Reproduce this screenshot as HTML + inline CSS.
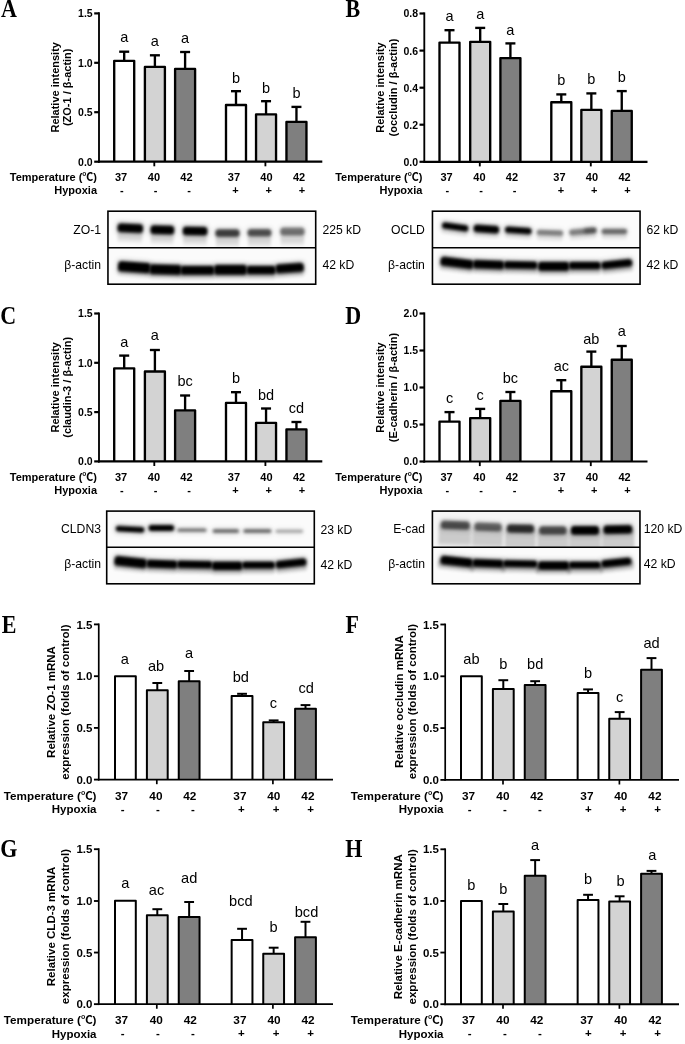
<!DOCTYPE html>
<html lang="en"><head><meta charset="utf-8"><title>Figure</title>
<style>
html,body{margin:0;padding:0;background:#fff;}
body{width:685px;height:1044px;overflow:hidden;}
svg{display:block;}
.ss{font-family:"Liberation Sans","Noto Sans CJK SC",sans-serif;fill:#000;}
.sr{font-family:"Liberation Serif","Noto Serif CJK SC",serif;fill:#000;}
.b{font-weight:bold;}
</style></head><body>
<svg width="685" height="1044" viewBox="0 0 685 1044">
<defs>
<filter id="bl" x="-30%" y="-100%" width="160%" height="300%"><feGaussianBlur stdDeviation="1.7 1.5"/></filter>
<filter id="bl2" x="-30%" y="-150%" width="160%" height="400%"><feGaussianBlur stdDeviation="1.6 2.2"/></filter>
<filter id="bl3" x="-30%" y="-200%" width="160%" height="500%"><feGaussianBlur stdDeviation="2.4 2.6"/></filter>
</defs>
<rect width="685" height="1044" fill="#fff"/>
<line x1="124.2" y1="60.8" x2="124.2" y2="51.7" stroke="#000" stroke-width="2.35"/>
<line x1="119.2" y1="51.7" x2="129.2" y2="51.7" stroke="#000" stroke-width="2.35"/>
<line x1="154.9" y1="66.9" x2="154.9" y2="55.3" stroke="#000" stroke-width="2.35"/>
<line x1="149.9" y1="55.3" x2="159.9" y2="55.3" stroke="#000" stroke-width="2.35"/>
<line x1="185.1" y1="68.9" x2="185.1" y2="52" stroke="#000" stroke-width="2.35"/>
<line x1="180.1" y1="52" x2="190.1" y2="52" stroke="#000" stroke-width="2.35"/>
<line x1="236" y1="105" x2="236" y2="91.2" stroke="#000" stroke-width="2.35"/>
<line x1="231" y1="91.2" x2="241" y2="91.2" stroke="#000" stroke-width="2.35"/>
<line x1="266.05" y1="114.4" x2="266.05" y2="101.2" stroke="#000" stroke-width="2.35"/>
<line x1="261.05" y1="101.2" x2="271.05" y2="101.2" stroke="#000" stroke-width="2.35"/>
<line x1="296.45" y1="121.9" x2="296.45" y2="106.9" stroke="#000" stroke-width="2.35"/>
<line x1="291.45" y1="106.9" x2="301.45" y2="106.9" stroke="#000" stroke-width="2.35"/>
<path d="M114.2 161.7V60.8H134.2V161.7" fill="#ffffff" stroke="#000" stroke-width="2.35" stroke-linejoin="round"/>
<path d="M144.9 161.7V66.9H164.9V161.7" fill="#d3d3d3" stroke="#000" stroke-width="2.35" stroke-linejoin="round"/>
<path d="M175.1 161.7V68.9H195.1V161.7" fill="#7f7f7f" stroke="#000" stroke-width="2.35" stroke-linejoin="round"/>
<path d="M226 161.7V105H246V161.7" fill="#ffffff" stroke="#000" stroke-width="2.35" stroke-linejoin="round"/>
<path d="M256.05 161.7V114.4H276.05V161.7" fill="#d3d3d3" stroke="#000" stroke-width="2.35" stroke-linejoin="round"/>
<path d="M286.45 161.7V121.9H306.45V161.7" fill="#7f7f7f" stroke="#000" stroke-width="2.35" stroke-linejoin="round"/>
<line x1="99" y1="12.3" x2="99" y2="162.8" stroke="#000" stroke-width="1.85"/>
<line x1="98.08" y1="161.7" x2="322.3" y2="161.7" stroke="#000" stroke-width="2.2"/>
<line x1="94.2" y1="161.7" x2="99" y2="161.7" stroke="#000" stroke-width="2.2"/>
<text x="92.7" y="165.6" class="ss b" font-size="10.5" text-anchor="end">0.0</text>
<line x1="94.2" y1="112.2" x2="99" y2="112.2" stroke="#000" stroke-width="2.2"/>
<text x="92.7" y="116.1" class="ss b" font-size="10.5" text-anchor="end">0.5</text>
<line x1="94.2" y1="62.8" x2="99" y2="62.8" stroke="#000" stroke-width="2.2"/>
<text x="92.7" y="66.7" class="ss b" font-size="10.5" text-anchor="end">1.0</text>
<line x1="94.2" y1="13.4" x2="99" y2="13.4" stroke="#000" stroke-width="2.2"/>
<text x="92.7" y="17.3" class="ss b" font-size="10.5" text-anchor="end">1.5</text>
<line x1="154.3" y1="161.7" x2="154.3" y2="166.3" stroke="#000" stroke-width="1.85"/>
<line x1="265.4" y1="161.7" x2="265.4" y2="166.3" stroke="#000" stroke-width="1.85"/>
<text x="124.2" y="42.3" class="ss" font-size="14.5" text-anchor="middle">a</text>
<text x="154.9" y="45.8" class="ss" font-size="14.5" text-anchor="middle">a</text>
<text x="185.1" y="42.8" class="ss" font-size="14.5" text-anchor="middle">a</text>
<text x="236" y="83.1" class="ss" font-size="14.5" text-anchor="middle">b</text>
<text x="266.05" y="92.9" class="ss" font-size="14.5" text-anchor="middle">b</text>
<text x="296.45" y="97.6" class="ss" font-size="14.5" text-anchor="middle">b</text>
<text x="97" y="181.2" class="ss b" font-size="11" text-anchor="end">Temperature (℃)</text>
<text x="97" y="194.4" class="ss b" font-size="11" text-anchor="end">Hypoxia</text>
<text x="121.1" y="181.2" class="ss b" font-size="11" text-anchor="middle">37</text>
<text x="121.9" y="194" class="ss b" font-size="11" text-anchor="middle">-</text>
<text x="153.9" y="181.2" class="ss b" font-size="11" text-anchor="middle">40</text>
<text x="155.6" y="194" class="ss b" font-size="11" text-anchor="middle">-</text>
<text x="186.4" y="181.2" class="ss b" font-size="11" text-anchor="middle">42</text>
<text x="189.2" y="194" class="ss b" font-size="11" text-anchor="middle">-</text>
<text x="233.9" y="181.2" class="ss b" font-size="11" text-anchor="middle">37</text>
<text x="235.5" y="194" class="ss b" font-size="11" text-anchor="middle">+</text>
<text x="266.4" y="181.2" class="ss b" font-size="11" text-anchor="middle">40</text>
<text x="268.8" y="194" class="ss b" font-size="11" text-anchor="middle">+</text>
<text x="299.1" y="181.2" class="ss b" font-size="11" text-anchor="middle">42</text>
<text x="301.9" y="194" class="ss b" font-size="11" text-anchor="middle">+</text>
<text transform="translate(58.5 87.3) rotate(-90)" class="ss b" font-size="11" text-anchor="middle">Relative intensity</text>
<text transform="translate(71.4 87.3) rotate(-90)" class="ss b" font-size="11" text-anchor="middle">(ZO-1 / β-actin)</text>
<text transform="translate(1.1 16.6) scale(1 1.13)" class="sr b" font-size="22">A</text>
<line x1="449.5" y1="42.6" x2="449.5" y2="30.2" stroke="#000" stroke-width="2.35"/>
<line x1="444.5" y1="30.2" x2="454.5" y2="30.2" stroke="#000" stroke-width="2.35"/>
<line x1="480.2" y1="41.8" x2="480.2" y2="27.9" stroke="#000" stroke-width="2.35"/>
<line x1="475.2" y1="27.9" x2="485.2" y2="27.9" stroke="#000" stroke-width="2.35"/>
<line x1="510.4" y1="58.1" x2="510.4" y2="43.4" stroke="#000" stroke-width="2.35"/>
<line x1="505.4" y1="43.4" x2="515.4" y2="43.4" stroke="#000" stroke-width="2.35"/>
<line x1="561.3" y1="102.2" x2="561.3" y2="94.4" stroke="#000" stroke-width="2.35"/>
<line x1="556.3" y1="94.4" x2="566.3" y2="94.4" stroke="#000" stroke-width="2.35"/>
<line x1="591.35" y1="109.9" x2="591.35" y2="93.4" stroke="#000" stroke-width="2.35"/>
<line x1="586.35" y1="93.4" x2="596.35" y2="93.4" stroke="#000" stroke-width="2.35"/>
<line x1="621.75" y1="110.9" x2="621.75" y2="91.1" stroke="#000" stroke-width="2.35"/>
<line x1="616.75" y1="91.1" x2="626.75" y2="91.1" stroke="#000" stroke-width="2.35"/>
<path d="M439.5 161.8V42.6H459.5V161.8" fill="#ffffff" stroke="#000" stroke-width="2.35" stroke-linejoin="round"/>
<path d="M470.2 161.8V41.8H490.2V161.8" fill="#d3d3d3" stroke="#000" stroke-width="2.35" stroke-linejoin="round"/>
<path d="M500.4 161.8V58.1H520.4V161.8" fill="#7f7f7f" stroke="#000" stroke-width="2.35" stroke-linejoin="round"/>
<path d="M551.3 161.8V102.2H571.3V161.8" fill="#ffffff" stroke="#000" stroke-width="2.35" stroke-linejoin="round"/>
<path d="M581.35 161.8V109.9H601.35V161.8" fill="#d3d3d3" stroke="#000" stroke-width="2.35" stroke-linejoin="round"/>
<path d="M611.75 161.8V110.9H631.75V161.8" fill="#7f7f7f" stroke="#000" stroke-width="2.35" stroke-linejoin="round"/>
<line x1="424.3" y1="12.4" x2="424.3" y2="162.9" stroke="#000" stroke-width="1.85"/>
<line x1="423.38" y1="161.8" x2="647.5" y2="161.8" stroke="#000" stroke-width="2.2"/>
<line x1="419.5" y1="161.8" x2="424.3" y2="161.8" stroke="#000" stroke-width="2.2"/>
<text x="418" y="165.7" class="ss b" font-size="10.5" text-anchor="end">0.0</text>
<line x1="419.5" y1="124.7" x2="424.3" y2="124.7" stroke="#000" stroke-width="2.2"/>
<text x="418" y="128.6" class="ss b" font-size="10.5" text-anchor="end">0.2</text>
<line x1="419.5" y1="87.7" x2="424.3" y2="87.7" stroke="#000" stroke-width="2.2"/>
<text x="418" y="91.6" class="ss b" font-size="10.5" text-anchor="end">0.4</text>
<line x1="419.5" y1="50.6" x2="424.3" y2="50.6" stroke="#000" stroke-width="2.2"/>
<text x="418" y="54.5" class="ss b" font-size="10.5" text-anchor="end">0.6</text>
<line x1="419.5" y1="13.5" x2="424.3" y2="13.5" stroke="#000" stroke-width="2.2"/>
<text x="418" y="17.4" class="ss b" font-size="10.5" text-anchor="end">0.8</text>
<line x1="479.8" y1="161.8" x2="479.8" y2="166.4" stroke="#000" stroke-width="1.85"/>
<line x1="590.8" y1="161.8" x2="590.8" y2="166.4" stroke="#000" stroke-width="1.85"/>
<text x="449.5" y="20.7" class="ss" font-size="14.5" text-anchor="middle">a</text>
<text x="480.2" y="18.5" class="ss" font-size="14.5" text-anchor="middle">a</text>
<text x="510.4" y="34.7" class="ss" font-size="14.5" text-anchor="middle">a</text>
<text x="561.3" y="84.8" class="ss" font-size="14.5" text-anchor="middle">b</text>
<text x="591.35" y="84.4" class="ss" font-size="14.5" text-anchor="middle">b</text>
<text x="621.75" y="82.3" class="ss" font-size="14.5" text-anchor="middle">b</text>
<text x="422.4" y="181.2" class="ss b" font-size="11" text-anchor="end">Temperature (℃)</text>
<text x="422.4" y="194.4" class="ss b" font-size="11" text-anchor="end">Hypoxia</text>
<text x="446.6" y="181.2" class="ss b" font-size="11" text-anchor="middle">37</text>
<text x="447.4" y="194" class="ss b" font-size="11" text-anchor="middle">-</text>
<text x="479.4" y="181.2" class="ss b" font-size="11" text-anchor="middle">40</text>
<text x="481.1" y="194" class="ss b" font-size="11" text-anchor="middle">-</text>
<text x="511.9" y="181.2" class="ss b" font-size="11" text-anchor="middle">42</text>
<text x="514.7" y="194" class="ss b" font-size="11" text-anchor="middle">-</text>
<text x="559.4" y="181.2" class="ss b" font-size="11" text-anchor="middle">37</text>
<text x="561" y="194" class="ss b" font-size="11" text-anchor="middle">+</text>
<text x="591.9" y="181.2" class="ss b" font-size="11" text-anchor="middle">40</text>
<text x="594.3" y="194" class="ss b" font-size="11" text-anchor="middle">+</text>
<text x="624.6" y="181.2" class="ss b" font-size="11" text-anchor="middle">42</text>
<text x="627.4" y="194" class="ss b" font-size="11" text-anchor="middle">+</text>
<text transform="translate(383.8 87.5) rotate(-90)" class="ss b" font-size="11" text-anchor="middle">Relative intensity</text>
<text transform="translate(396.7 87.5) rotate(-90)" class="ss b" font-size="11" text-anchor="middle">(occludin / β-actin)</text>
<text transform="translate(345.6 16.6) scale(1 1.13)" class="sr b" font-size="22">B</text>
<line x1="124.2" y1="368.3" x2="124.2" y2="355.6" stroke="#000" stroke-width="2.35"/>
<line x1="119.2" y1="355.6" x2="129.2" y2="355.6" stroke="#000" stroke-width="2.35"/>
<line x1="154.9" y1="371.5" x2="154.9" y2="350" stroke="#000" stroke-width="2.35"/>
<line x1="149.9" y1="350" x2="159.9" y2="350" stroke="#000" stroke-width="2.35"/>
<line x1="185.1" y1="410.3" x2="185.1" y2="395.5" stroke="#000" stroke-width="2.35"/>
<line x1="180.1" y1="395.5" x2="190.1" y2="395.5" stroke="#000" stroke-width="2.35"/>
<line x1="236" y1="402.9" x2="236" y2="392.2" stroke="#000" stroke-width="2.35"/>
<line x1="231" y1="392.2" x2="241" y2="392.2" stroke="#000" stroke-width="2.35"/>
<line x1="266.05" y1="422.8" x2="266.05" y2="408.5" stroke="#000" stroke-width="2.35"/>
<line x1="261.05" y1="408.5" x2="271.05" y2="408.5" stroke="#000" stroke-width="2.35"/>
<line x1="296.45" y1="429.4" x2="296.45" y2="422" stroke="#000" stroke-width="2.35"/>
<line x1="291.45" y1="422" x2="301.45" y2="422" stroke="#000" stroke-width="2.35"/>
<path d="M114.2 461.4V368.3H134.2V461.4" fill="#ffffff" stroke="#000" stroke-width="2.35" stroke-linejoin="round"/>
<path d="M144.9 461.4V371.5H164.9V461.4" fill="#d3d3d3" stroke="#000" stroke-width="2.35" stroke-linejoin="round"/>
<path d="M175.1 461.4V410.3H195.1V461.4" fill="#7f7f7f" stroke="#000" stroke-width="2.35" stroke-linejoin="round"/>
<path d="M226 461.4V402.9H246V461.4" fill="#ffffff" stroke="#000" stroke-width="2.35" stroke-linejoin="round"/>
<path d="M256.05 461.4V422.8H276.05V461.4" fill="#d3d3d3" stroke="#000" stroke-width="2.35" stroke-linejoin="round"/>
<path d="M286.45 461.4V429.4H306.45V461.4" fill="#7f7f7f" stroke="#000" stroke-width="2.35" stroke-linejoin="round"/>
<line x1="99" y1="312.4" x2="99" y2="462.5" stroke="#000" stroke-width="1.85"/>
<line x1="98.08" y1="461.4" x2="322.3" y2="461.4" stroke="#000" stroke-width="2.2"/>
<line x1="94.2" y1="461.4" x2="99" y2="461.4" stroke="#000" stroke-width="2.2"/>
<text x="92.7" y="465.3" class="ss b" font-size="10.5" text-anchor="end">0.0</text>
<line x1="94.2" y1="412.1" x2="99" y2="412.1" stroke="#000" stroke-width="2.2"/>
<text x="92.7" y="416" class="ss b" font-size="10.5" text-anchor="end">0.5</text>
<line x1="94.2" y1="362.8" x2="99" y2="362.8" stroke="#000" stroke-width="2.2"/>
<text x="92.7" y="366.7" class="ss b" font-size="10.5" text-anchor="end">1.0</text>
<line x1="94.2" y1="313.5" x2="99" y2="313.5" stroke="#000" stroke-width="2.2"/>
<text x="92.7" y="317.4" class="ss b" font-size="10.5" text-anchor="end">1.5</text>
<line x1="154.3" y1="461.4" x2="154.3" y2="466" stroke="#000" stroke-width="1.85"/>
<line x1="265.4" y1="461.4" x2="265.4" y2="466" stroke="#000" stroke-width="1.85"/>
<text x="124.2" y="346.6" class="ss" font-size="14.5" text-anchor="middle">a</text>
<text x="154.9" y="340.2" class="ss" font-size="14.5" text-anchor="middle">a</text>
<text x="185.1" y="386" class="ss" font-size="14.5" text-anchor="middle">bc</text>
<text x="236" y="383" class="ss" font-size="14.5" text-anchor="middle">b</text>
<text x="266.05" y="399.6" class="ss" font-size="14.5" text-anchor="middle">bd</text>
<text x="296.45" y="413.3" class="ss" font-size="14.5" text-anchor="middle">cd</text>
<text x="97" y="480.8" class="ss b" font-size="11" text-anchor="end">Temperature (℃)</text>
<text x="97" y="494" class="ss b" font-size="11" text-anchor="end">Hypoxia</text>
<text x="121.1" y="480.8" class="ss b" font-size="11" text-anchor="middle">37</text>
<text x="121.9" y="493.6" class="ss b" font-size="11" text-anchor="middle">-</text>
<text x="153.9" y="480.8" class="ss b" font-size="11" text-anchor="middle">40</text>
<text x="155.6" y="493.6" class="ss b" font-size="11" text-anchor="middle">-</text>
<text x="186.4" y="480.8" class="ss b" font-size="11" text-anchor="middle">42</text>
<text x="189.2" y="493.6" class="ss b" font-size="11" text-anchor="middle">-</text>
<text x="233.9" y="480.8" class="ss b" font-size="11" text-anchor="middle">37</text>
<text x="235.5" y="493.6" class="ss b" font-size="11" text-anchor="middle">+</text>
<text x="266.4" y="480.8" class="ss b" font-size="11" text-anchor="middle">40</text>
<text x="268.8" y="493.6" class="ss b" font-size="11" text-anchor="middle">+</text>
<text x="299.1" y="480.8" class="ss b" font-size="11" text-anchor="middle">42</text>
<text x="301.9" y="493.6" class="ss b" font-size="11" text-anchor="middle">+</text>
<text transform="translate(58.5 387.3) rotate(-90)" class="ss b" font-size="11" text-anchor="middle">Relative intensity</text>
<text transform="translate(71.4 387.3) rotate(-90)" class="ss b" font-size="11" text-anchor="middle">(claudin-3 / β-actin)</text>
<text transform="translate(0.3 323.7) scale(1 1.13)" class="sr b" font-size="22">C</text>
<line x1="449.5" y1="421.6" x2="449.5" y2="412.1" stroke="#000" stroke-width="2.35"/>
<line x1="444.5" y1="412.1" x2="454.5" y2="412.1" stroke="#000" stroke-width="2.35"/>
<line x1="480.2" y1="418.1" x2="480.2" y2="408.9" stroke="#000" stroke-width="2.35"/>
<line x1="475.2" y1="408.9" x2="485.2" y2="408.9" stroke="#000" stroke-width="2.35"/>
<line x1="510.4" y1="400.8" x2="510.4" y2="392" stroke="#000" stroke-width="2.35"/>
<line x1="505.4" y1="392" x2="515.4" y2="392" stroke="#000" stroke-width="2.35"/>
<line x1="561.3" y1="391.2" x2="561.3" y2="380.2" stroke="#000" stroke-width="2.35"/>
<line x1="556.3" y1="380.2" x2="566.3" y2="380.2" stroke="#000" stroke-width="2.35"/>
<line x1="591.35" y1="366.7" x2="591.35" y2="351.6" stroke="#000" stroke-width="2.35"/>
<line x1="586.35" y1="351.6" x2="596.35" y2="351.6" stroke="#000" stroke-width="2.35"/>
<line x1="621.75" y1="359.7" x2="621.75" y2="346" stroke="#000" stroke-width="2.35"/>
<line x1="616.75" y1="346" x2="626.75" y2="346" stroke="#000" stroke-width="2.35"/>
<path d="M439.5 461.5V421.6H459.5V461.5" fill="#ffffff" stroke="#000" stroke-width="2.35" stroke-linejoin="round"/>
<path d="M470.2 461.5V418.1H490.2V461.5" fill="#d3d3d3" stroke="#000" stroke-width="2.35" stroke-linejoin="round"/>
<path d="M500.4 461.5V400.8H520.4V461.5" fill="#7f7f7f" stroke="#000" stroke-width="2.35" stroke-linejoin="round"/>
<path d="M551.3 461.5V391.2H571.3V461.5" fill="#ffffff" stroke="#000" stroke-width="2.35" stroke-linejoin="round"/>
<path d="M581.35 461.5V366.7H601.35V461.5" fill="#d3d3d3" stroke="#000" stroke-width="2.35" stroke-linejoin="round"/>
<path d="M611.75 461.5V359.7H631.75V461.5" fill="#7f7f7f" stroke="#000" stroke-width="2.35" stroke-linejoin="round"/>
<line x1="424.3" y1="312.4" x2="424.3" y2="462.6" stroke="#000" stroke-width="1.85"/>
<line x1="423.38" y1="461.5" x2="647.5" y2="461.5" stroke="#000" stroke-width="2.2"/>
<line x1="419.5" y1="461.5" x2="424.3" y2="461.5" stroke="#000" stroke-width="2.2"/>
<text x="418" y="465.4" class="ss b" font-size="10.5" text-anchor="end">0.0</text>
<line x1="419.5" y1="424.5" x2="424.3" y2="424.5" stroke="#000" stroke-width="2.2"/>
<text x="418" y="428.4" class="ss b" font-size="10.5" text-anchor="end">0.5</text>
<line x1="419.5" y1="387.5" x2="424.3" y2="387.5" stroke="#000" stroke-width="2.2"/>
<text x="418" y="391.4" class="ss b" font-size="10.5" text-anchor="end">1.0</text>
<line x1="419.5" y1="350.5" x2="424.3" y2="350.5" stroke="#000" stroke-width="2.2"/>
<text x="418" y="354.4" class="ss b" font-size="10.5" text-anchor="end">1.5</text>
<line x1="419.5" y1="313.5" x2="424.3" y2="313.5" stroke="#000" stroke-width="2.2"/>
<text x="418" y="317.4" class="ss b" font-size="10.5" text-anchor="end">2.0</text>
<line x1="479.8" y1="461.5" x2="479.8" y2="466.1" stroke="#000" stroke-width="1.85"/>
<line x1="590.8" y1="461.5" x2="590.8" y2="466.1" stroke="#000" stroke-width="1.85"/>
<text x="449.5" y="403.2" class="ss" font-size="14.5" text-anchor="middle">c</text>
<text x="480.2" y="400.2" class="ss" font-size="14.5" text-anchor="middle">c</text>
<text x="510.4" y="382.8" class="ss" font-size="14.5" text-anchor="middle">bc</text>
<text x="561.3" y="371.1" class="ss" font-size="14.5" text-anchor="middle">ac</text>
<text x="591.35" y="344.2" class="ss" font-size="14.5" text-anchor="middle">ab</text>
<text x="621.75" y="336.4" class="ss" font-size="14.5" text-anchor="middle">a</text>
<text x="422.4" y="480.8" class="ss b" font-size="11" text-anchor="end">Temperature (℃)</text>
<text x="422.4" y="494" class="ss b" font-size="11" text-anchor="end">Hypoxia</text>
<text x="446.6" y="480.8" class="ss b" font-size="11" text-anchor="middle">37</text>
<text x="447.4" y="493.6" class="ss b" font-size="11" text-anchor="middle">-</text>
<text x="479.4" y="480.8" class="ss b" font-size="11" text-anchor="middle">40</text>
<text x="481.1" y="493.6" class="ss b" font-size="11" text-anchor="middle">-</text>
<text x="511.9" y="480.8" class="ss b" font-size="11" text-anchor="middle">42</text>
<text x="514.7" y="493.6" class="ss b" font-size="11" text-anchor="middle">-</text>
<text x="559.4" y="480.8" class="ss b" font-size="11" text-anchor="middle">37</text>
<text x="561" y="493.6" class="ss b" font-size="11" text-anchor="middle">+</text>
<text x="591.9" y="480.8" class="ss b" font-size="11" text-anchor="middle">40</text>
<text x="594.3" y="493.6" class="ss b" font-size="11" text-anchor="middle">+</text>
<text x="624.6" y="480.8" class="ss b" font-size="11" text-anchor="middle">42</text>
<text x="627.4" y="493.6" class="ss b" font-size="11" text-anchor="middle">+</text>
<text transform="translate(383.8 387.5) rotate(-90)" class="ss b" font-size="11" text-anchor="middle">Relative intensity</text>
<text transform="translate(396.7 387.5) rotate(-90)" class="ss b" font-size="11" text-anchor="middle">(E-cadherin / β-actin)</text>
<text transform="translate(345.2 323.7) scale(1 1.13)" class="sr b" font-size="22">D</text>
<line x1="157.3" y1="690.3" x2="157.3" y2="683" stroke="#000" stroke-width="2"/>
<line x1="152.4" y1="683" x2="162.2" y2="683" stroke="#000" stroke-width="2"/>
<line x1="189.15" y1="681.2" x2="189.15" y2="671" stroke="#000" stroke-width="2"/>
<line x1="184.25" y1="671" x2="194.05" y2="671" stroke="#000" stroke-width="2"/>
<line x1="242.05" y1="696" x2="242.05" y2="693.8" stroke="#000" stroke-width="2"/>
<line x1="237.15" y1="693.8" x2="246.95" y2="693.8" stroke="#000" stroke-width="2"/>
<line x1="273.65" y1="722.2" x2="273.65" y2="720.4" stroke="#000" stroke-width="2"/>
<line x1="268.75" y1="720.4" x2="278.55" y2="720.4" stroke="#000" stroke-width="2"/>
<line x1="305.5" y1="708.8" x2="305.5" y2="705.1" stroke="#000" stroke-width="2"/>
<line x1="300.6" y1="705.1" x2="310.4" y2="705.1" stroke="#000" stroke-width="2"/>
<path d="M115 779.6V676.2H135.8V779.6" fill="#ffffff" stroke="#000" stroke-width="2" stroke-linejoin="round"/>
<path d="M146.9 779.6V690.3H167.7V779.6" fill="#d3d3d3" stroke="#000" stroke-width="2" stroke-linejoin="round"/>
<path d="M178.75 779.6V681.2H199.55V779.6" fill="#7f7f7f" stroke="#000" stroke-width="2" stroke-linejoin="round"/>
<path d="M231.65 779.6V696H252.45V779.6" fill="#ffffff" stroke="#000" stroke-width="2" stroke-linejoin="round"/>
<path d="M263.25 779.6V722.2H284.05V779.6" fill="#d3d3d3" stroke="#000" stroke-width="2" stroke-linejoin="round"/>
<path d="M295.1 779.6V708.8H315.9V779.6" fill="#7f7f7f" stroke="#000" stroke-width="2" stroke-linejoin="round"/>
<line x1="98.75" y1="623.48" x2="98.75" y2="780.52" stroke="#000" stroke-width="1.7"/>
<line x1="97.9" y1="779.6" x2="333" y2="779.6" stroke="#000" stroke-width="1.85"/>
<line x1="93.95" y1="779.6" x2="98.75" y2="779.6" stroke="#000" stroke-width="1.85"/>
<text x="92.45" y="783.7" class="ss b" font-size="11.5" text-anchor="end">0.0</text>
<line x1="93.95" y1="727.9" x2="98.75" y2="727.9" stroke="#000" stroke-width="1.85"/>
<text x="92.45" y="732" class="ss b" font-size="11.5" text-anchor="end">0.5</text>
<line x1="93.95" y1="676.2" x2="98.75" y2="676.2" stroke="#000" stroke-width="1.85"/>
<text x="92.45" y="680.3" class="ss b" font-size="11.5" text-anchor="end">1.0</text>
<line x1="93.95" y1="624.4" x2="98.75" y2="624.4" stroke="#000" stroke-width="1.85"/>
<text x="92.45" y="628.5" class="ss b" font-size="11.5" text-anchor="end">1.5</text>
<line x1="156.8" y1="779.6" x2="156.8" y2="784.2" stroke="#000" stroke-width="1.7"/>
<line x1="272.9" y1="779.6" x2="272.9" y2="784.2" stroke="#000" stroke-width="1.7"/>
<text x="124.8" y="663.7" class="ss" font-size="14.6" text-anchor="middle">a</text>
<text x="156.1" y="671.1" class="ss" font-size="14.6" text-anchor="middle">ab</text>
<text x="188.95" y="658.3" class="ss" font-size="14.6" text-anchor="middle">a</text>
<text x="240.75" y="681.6" class="ss" font-size="14.6" text-anchor="middle">bd</text>
<text x="273.35" y="708" class="ss" font-size="14.6" text-anchor="middle">c</text>
<text x="306.1" y="692.7" class="ss" font-size="14.6" text-anchor="middle">cd</text>
<text x="96.5" y="799.5" class="ss b" font-size="11.7" text-anchor="end">Temperature (℃)</text>
<text x="96.5" y="813.2" class="ss b" font-size="11.5" text-anchor="end">Hypoxia</text>
<text x="121.6" y="799.5" class="ss b" font-size="11.8" text-anchor="middle">37</text>
<text x="122.6" y="812.8" class="ss b" font-size="11.5" text-anchor="middle">-</text>
<text x="155.9" y="799.5" class="ss b" font-size="11.8" text-anchor="middle">40</text>
<text x="158" y="812.8" class="ss b" font-size="11.5" text-anchor="middle">-</text>
<text x="189.8" y="799.5" class="ss b" font-size="11.8" text-anchor="middle">42</text>
<text x="192.9" y="812.8" class="ss b" font-size="11.5" text-anchor="middle">-</text>
<text x="239.9" y="799.5" class="ss b" font-size="11.8" text-anchor="middle">37</text>
<text x="241.3" y="812.8" class="ss b" font-size="11.5" text-anchor="middle">+</text>
<text x="273.8" y="799.5" class="ss b" font-size="11.8" text-anchor="middle">40</text>
<text x="276.1" y="812.8" class="ss b" font-size="11.5" text-anchor="middle">+</text>
<text x="307.9" y="799.5" class="ss b" font-size="11.8" text-anchor="middle">42</text>
<text x="310.7" y="812.8" class="ss b" font-size="11.5" text-anchor="middle">+</text>
<text transform="translate(55.3 702) rotate(-90)" class="ss b" font-size="11.5" text-anchor="middle">Relative ZO-1 mRNA</text>
<text transform="translate(69.1 702) rotate(-90)" class="ss b" font-size="11.5" text-anchor="middle">expression (folds of control)</text>
<text transform="translate(1.8 632.6) scale(1 1.13)" class="sr b" font-size="22">E</text>
<line x1="503.3" y1="689" x2="503.3" y2="680.2" stroke="#000" stroke-width="2"/>
<line x1="498.4" y1="680.2" x2="508.2" y2="680.2" stroke="#000" stroke-width="2"/>
<line x1="535.15" y1="685.1" x2="535.15" y2="681.2" stroke="#000" stroke-width="2"/>
<line x1="530.25" y1="681.2" x2="540.05" y2="681.2" stroke="#000" stroke-width="2"/>
<line x1="588.05" y1="693" x2="588.05" y2="689.4" stroke="#000" stroke-width="2"/>
<line x1="583.15" y1="689.4" x2="592.95" y2="689.4" stroke="#000" stroke-width="2"/>
<line x1="619.65" y1="718.7" x2="619.65" y2="712.1" stroke="#000" stroke-width="2"/>
<line x1="614.75" y1="712.1" x2="624.55" y2="712.1" stroke="#000" stroke-width="2"/>
<line x1="651.5" y1="669.7" x2="651.5" y2="658.1" stroke="#000" stroke-width="2"/>
<line x1="646.6" y1="658.1" x2="656.4" y2="658.1" stroke="#000" stroke-width="2"/>
<path d="M461 779.9V676.2H481.8V779.9" fill="#ffffff" stroke="#000" stroke-width="2" stroke-linejoin="round"/>
<path d="M492.9 779.9V689H513.7V779.9" fill="#d3d3d3" stroke="#000" stroke-width="2" stroke-linejoin="round"/>
<path d="M524.75 779.9V685.1H545.55V779.9" fill="#7f7f7f" stroke="#000" stroke-width="2" stroke-linejoin="round"/>
<path d="M577.65 779.9V693H598.45V779.9" fill="#ffffff" stroke="#000" stroke-width="2" stroke-linejoin="round"/>
<path d="M609.25 779.9V718.7H630.05V779.9" fill="#d3d3d3" stroke="#000" stroke-width="2" stroke-linejoin="round"/>
<path d="M641.1 779.9V669.7H661.9V779.9" fill="#7f7f7f" stroke="#000" stroke-width="2" stroke-linejoin="round"/>
<line x1="445.2" y1="623.58" x2="445.2" y2="780.82" stroke="#000" stroke-width="1.7"/>
<line x1="444.35" y1="779.9" x2="679" y2="779.9" stroke="#000" stroke-width="1.85"/>
<line x1="440.4" y1="779.9" x2="445.2" y2="779.9" stroke="#000" stroke-width="1.85"/>
<text x="438.9" y="784" class="ss b" font-size="11.5" text-anchor="end">0.0</text>
<line x1="440.4" y1="728.1" x2="445.2" y2="728.1" stroke="#000" stroke-width="1.85"/>
<text x="438.9" y="732.2" class="ss b" font-size="11.5" text-anchor="end">0.5</text>
<line x1="440.4" y1="676.3" x2="445.2" y2="676.3" stroke="#000" stroke-width="1.85"/>
<text x="438.9" y="680.4" class="ss b" font-size="11.5" text-anchor="end">1.0</text>
<line x1="440.4" y1="624.5" x2="445.2" y2="624.5" stroke="#000" stroke-width="1.85"/>
<text x="438.9" y="628.6" class="ss b" font-size="11.5" text-anchor="end">1.5</text>
<line x1="503" y1="779.9" x2="503" y2="784.5" stroke="#000" stroke-width="1.7"/>
<line x1="619.4" y1="779.9" x2="619.4" y2="784.5" stroke="#000" stroke-width="1.7"/>
<text x="471.4" y="664.4" class="ss" font-size="14.6" text-anchor="middle">ab</text>
<text x="503.3" y="669.1" class="ss" font-size="14.6" text-anchor="middle">b</text>
<text x="535.15" y="669.1" class="ss" font-size="14.6" text-anchor="middle">bd</text>
<text x="588.05" y="677.6" class="ss" font-size="14.6" text-anchor="middle">b</text>
<text x="619.65" y="701.6" class="ss" font-size="14.6" text-anchor="middle">c</text>
<text x="651.5" y="647.6" class="ss" font-size="14.6" text-anchor="middle">ad</text>
<text x="443.5" y="799.5" class="ss b" font-size="11.7" text-anchor="end">Temperature (℃)</text>
<text x="443.5" y="813.2" class="ss b" font-size="11.5" text-anchor="end">Hypoxia</text>
<text x="468.6" y="799.5" class="ss b" font-size="11.8" text-anchor="middle">37</text>
<text x="469.6" y="812.8" class="ss b" font-size="11.5" text-anchor="middle">-</text>
<text x="502.9" y="799.5" class="ss b" font-size="11.8" text-anchor="middle">40</text>
<text x="505" y="812.8" class="ss b" font-size="11.5" text-anchor="middle">-</text>
<text x="536.8" y="799.5" class="ss b" font-size="11.8" text-anchor="middle">42</text>
<text x="539.9" y="812.8" class="ss b" font-size="11.5" text-anchor="middle">-</text>
<text x="586.9" y="799.5" class="ss b" font-size="11.8" text-anchor="middle">37</text>
<text x="588.3" y="812.8" class="ss b" font-size="11.5" text-anchor="middle">+</text>
<text x="620.8" y="799.5" class="ss b" font-size="11.8" text-anchor="middle">40</text>
<text x="623.1" y="812.8" class="ss b" font-size="11.5" text-anchor="middle">+</text>
<text x="654.9" y="799.5" class="ss b" font-size="11.8" text-anchor="middle">42</text>
<text x="657.7" y="812.8" class="ss b" font-size="11.5" text-anchor="middle">+</text>
<text transform="translate(402.6 701.6) rotate(-90)" class="ss b" font-size="11.5" text-anchor="middle">Relative occludin mRNA</text>
<text transform="translate(416.4 701.6) rotate(-90)" class="ss b" font-size="11.5" text-anchor="middle">expression (folds of control)</text>
<text transform="translate(345.5 632.6) scale(1 1.13)" class="sr b" font-size="22">F</text>
<line x1="157.3" y1="915.2" x2="157.3" y2="909.2" stroke="#000" stroke-width="2"/>
<line x1="152.4" y1="909.2" x2="162.2" y2="909.2" stroke="#000" stroke-width="2"/>
<line x1="189.15" y1="917.1" x2="189.15" y2="902" stroke="#000" stroke-width="2"/>
<line x1="184.25" y1="902" x2="194.05" y2="902" stroke="#000" stroke-width="2"/>
<line x1="242.05" y1="939.9" x2="242.05" y2="928.8" stroke="#000" stroke-width="2"/>
<line x1="237.15" y1="928.8" x2="246.95" y2="928.8" stroke="#000" stroke-width="2"/>
<line x1="273.65" y1="953.7" x2="273.65" y2="947.7" stroke="#000" stroke-width="2"/>
<line x1="268.75" y1="947.7" x2="278.55" y2="947.7" stroke="#000" stroke-width="2"/>
<line x1="305.5" y1="937.2" x2="305.5" y2="921.8" stroke="#000" stroke-width="2"/>
<line x1="300.6" y1="921.8" x2="310.4" y2="921.8" stroke="#000" stroke-width="2"/>
<path d="M115 1004.15V900.8H135.8V1004.15" fill="#ffffff" stroke="#000" stroke-width="2" stroke-linejoin="round"/>
<path d="M146.9 1004.15V915.2H167.7V1004.15" fill="#d3d3d3" stroke="#000" stroke-width="2" stroke-linejoin="round"/>
<path d="M178.75 1004.15V917.1H199.55V1004.15" fill="#7f7f7f" stroke="#000" stroke-width="2" stroke-linejoin="round"/>
<path d="M231.65 1004.15V939.9H252.45V1004.15" fill="#ffffff" stroke="#000" stroke-width="2" stroke-linejoin="round"/>
<path d="M263.25 1004.15V953.7H284.05V1004.15" fill="#d3d3d3" stroke="#000" stroke-width="2" stroke-linejoin="round"/>
<path d="M295.1 1004.15V937.2H315.9V1004.15" fill="#7f7f7f" stroke="#000" stroke-width="2" stroke-linejoin="round"/>
<line x1="98.75" y1="848.28" x2="98.75" y2="1005.07" stroke="#000" stroke-width="1.7"/>
<line x1="97.9" y1="1004.15" x2="333" y2="1004.15" stroke="#000" stroke-width="1.85"/>
<line x1="93.95" y1="1004.15" x2="98.75" y2="1004.15" stroke="#000" stroke-width="1.85"/>
<text x="92.45" y="1008.25" class="ss b" font-size="11.5" text-anchor="end">0.0</text>
<line x1="93.95" y1="952.55" x2="98.75" y2="952.55" stroke="#000" stroke-width="1.85"/>
<text x="92.45" y="956.65" class="ss b" font-size="11.5" text-anchor="end">0.5</text>
<line x1="93.95" y1="901" x2="98.75" y2="901" stroke="#000" stroke-width="1.85"/>
<text x="92.45" y="905.1" class="ss b" font-size="11.5" text-anchor="end">1.0</text>
<line x1="93.95" y1="849.2" x2="98.75" y2="849.2" stroke="#000" stroke-width="1.85"/>
<text x="92.45" y="853.3" class="ss b" font-size="11.5" text-anchor="end">1.5</text>
<line x1="156.8" y1="1004.15" x2="156.8" y2="1008.75" stroke="#000" stroke-width="1.7"/>
<line x1="272.9" y1="1004.15" x2="272.9" y2="1008.75" stroke="#000" stroke-width="1.7"/>
<text x="125.4" y="887.8" class="ss" font-size="14.6" text-anchor="middle">a</text>
<text x="156.5" y="895.2" class="ss" font-size="14.6" text-anchor="middle">ac</text>
<text x="189.15" y="882.7" class="ss" font-size="14.6" text-anchor="middle">ad</text>
<text x="240.85" y="906.2" class="ss" font-size="14.6" text-anchor="middle">bcd</text>
<text x="273.65" y="931.9" class="ss" font-size="14.6" text-anchor="middle">b</text>
<text x="306.5" y="917.1" class="ss" font-size="14.6" text-anchor="middle">bcd</text>
<text x="96.5" y="1024.1" class="ss b" font-size="11.7" text-anchor="end">Temperature (℃)</text>
<text x="96.5" y="1037.8" class="ss b" font-size="11.5" text-anchor="end">Hypoxia</text>
<text x="121.6" y="1024.1" class="ss b" font-size="11.8" text-anchor="middle">37</text>
<text x="122.6" y="1037.4" class="ss b" font-size="11.5" text-anchor="middle">-</text>
<text x="156.3" y="1024.1" class="ss b" font-size="11.8" text-anchor="middle">40</text>
<text x="158" y="1037.4" class="ss b" font-size="11.5" text-anchor="middle">-</text>
<text x="190.2" y="1024.1" class="ss b" font-size="11.8" text-anchor="middle">42</text>
<text x="192.9" y="1037.4" class="ss b" font-size="11.5" text-anchor="middle">-</text>
<text x="239.9" y="1024.1" class="ss b" font-size="11.8" text-anchor="middle">37</text>
<text x="241.3" y="1037.4" class="ss b" font-size="11.5" text-anchor="middle">+</text>
<text x="274" y="1024.1" class="ss b" font-size="11.8" text-anchor="middle">40</text>
<text x="276.1" y="1037.4" class="ss b" font-size="11.5" text-anchor="middle">+</text>
<text x="308.1" y="1024.1" class="ss b" font-size="11.8" text-anchor="middle">42</text>
<text x="310.7" y="1037.4" class="ss b" font-size="11.5" text-anchor="middle">+</text>
<text transform="translate(55.3 926.5) rotate(-90)" class="ss b" font-size="11.5" text-anchor="middle">Relative CLD-3 mRNA</text>
<text transform="translate(69.1 926.5) rotate(-90)" class="ss b" font-size="11.5" text-anchor="middle">expression (folds of control)</text>
<text transform="translate(0.3 856.6) scale(1 1.13)" class="sr b" font-size="22">G</text>
<line x1="503.3" y1="911.5" x2="503.3" y2="904" stroke="#000" stroke-width="2"/>
<line x1="498.4" y1="904" x2="508.2" y2="904" stroke="#000" stroke-width="2"/>
<line x1="535.15" y1="875.8" x2="535.15" y2="860.1" stroke="#000" stroke-width="2"/>
<line x1="530.25" y1="860.1" x2="540.05" y2="860.1" stroke="#000" stroke-width="2"/>
<line x1="588.05" y1="900" x2="588.05" y2="894.8" stroke="#000" stroke-width="2"/>
<line x1="583.15" y1="894.8" x2="592.95" y2="894.8" stroke="#000" stroke-width="2"/>
<line x1="619.65" y1="901.6" x2="619.65" y2="896.3" stroke="#000" stroke-width="2"/>
<line x1="614.75" y1="896.3" x2="624.55" y2="896.3" stroke="#000" stroke-width="2"/>
<line x1="651.5" y1="873.8" x2="651.5" y2="870.9" stroke="#000" stroke-width="2"/>
<line x1="646.6" y1="870.9" x2="656.4" y2="870.9" stroke="#000" stroke-width="2"/>
<path d="M461 1004.2V901H481.8V1004.2" fill="#ffffff" stroke="#000" stroke-width="2" stroke-linejoin="round"/>
<path d="M492.9 1004.2V911.5H513.7V1004.2" fill="#d3d3d3" stroke="#000" stroke-width="2" stroke-linejoin="round"/>
<path d="M524.75 1004.2V875.8H545.55V1004.2" fill="#7f7f7f" stroke="#000" stroke-width="2" stroke-linejoin="round"/>
<path d="M577.65 1004.2V900H598.45V1004.2" fill="#ffffff" stroke="#000" stroke-width="2" stroke-linejoin="round"/>
<path d="M609.25 1004.2V901.6H630.05V1004.2" fill="#d3d3d3" stroke="#000" stroke-width="2" stroke-linejoin="round"/>
<path d="M641.1 1004.2V873.8H661.9V1004.2" fill="#7f7f7f" stroke="#000" stroke-width="2" stroke-linejoin="round"/>
<line x1="445.2" y1="848.38" x2="445.2" y2="1005.12" stroke="#000" stroke-width="1.7"/>
<line x1="444.35" y1="1004.2" x2="679" y2="1004.2" stroke="#000" stroke-width="1.85"/>
<line x1="440.4" y1="1004.2" x2="445.2" y2="1004.2" stroke="#000" stroke-width="1.85"/>
<text x="438.9" y="1008.3" class="ss b" font-size="11.5" text-anchor="end">0.0</text>
<line x1="440.4" y1="952.55" x2="445.2" y2="952.55" stroke="#000" stroke-width="1.85"/>
<text x="438.9" y="956.65" class="ss b" font-size="11.5" text-anchor="end">0.5</text>
<line x1="440.4" y1="900.95" x2="445.2" y2="900.95" stroke="#000" stroke-width="1.85"/>
<text x="438.9" y="905.05" class="ss b" font-size="11.5" text-anchor="end">1.0</text>
<line x1="440.4" y1="849.3" x2="445.2" y2="849.3" stroke="#000" stroke-width="1.85"/>
<text x="438.9" y="853.4" class="ss b" font-size="11.5" text-anchor="end">1.5</text>
<line x1="503" y1="1004.2" x2="503" y2="1008.8" stroke="#000" stroke-width="1.7"/>
<line x1="619.4" y1="1004.2" x2="619.4" y2="1008.8" stroke="#000" stroke-width="1.7"/>
<text x="471.4" y="889.6" class="ss" font-size="14.6" text-anchor="middle">b</text>
<text x="503.3" y="893.5" class="ss" font-size="14.6" text-anchor="middle">b</text>
<text x="535.15" y="849.7" class="ss" font-size="14.6" text-anchor="middle">a</text>
<text x="588.05" y="883.6" class="ss" font-size="14.6" text-anchor="middle">b</text>
<text x="620.45" y="885.7" class="ss" font-size="14.6" text-anchor="middle">b</text>
<text x="652.4" y="860.3" class="ss" font-size="14.6" text-anchor="middle">a</text>
<text x="443.5" y="1024.1" class="ss b" font-size="11.7" text-anchor="end">Temperature (℃)</text>
<text x="443.5" y="1037.8" class="ss b" font-size="11.5" text-anchor="end">Hypoxia</text>
<text x="468.5" y="1024.1" class="ss b" font-size="11.8" text-anchor="middle">37</text>
<text x="469.6" y="1037.4" class="ss b" font-size="11.5" text-anchor="middle">-</text>
<text x="502.9" y="1024.1" class="ss b" font-size="11.8" text-anchor="middle">40</text>
<text x="505" y="1037.4" class="ss b" font-size="11.5" text-anchor="middle">-</text>
<text x="536.8" y="1024.1" class="ss b" font-size="11.8" text-anchor="middle">42</text>
<text x="539.9" y="1037.4" class="ss b" font-size="11.5" text-anchor="middle">-</text>
<text x="586.8" y="1024.1" class="ss b" font-size="11.8" text-anchor="middle">37</text>
<text x="588.3" y="1037.4" class="ss b" font-size="11.5" text-anchor="middle">+</text>
<text x="620.8" y="1024.1" class="ss b" font-size="11.8" text-anchor="middle">40</text>
<text x="623.1" y="1037.4" class="ss b" font-size="11.5" text-anchor="middle">+</text>
<text x="655" y="1024.1" class="ss b" font-size="11.8" text-anchor="middle">42</text>
<text x="657.7" y="1037.4" class="ss b" font-size="11.5" text-anchor="middle">+</text>
<text transform="translate(402.3 926.8) rotate(-90)" class="ss b" font-size="11.5" text-anchor="middle">Relative E-cadherin mRNA</text>
<text transform="translate(416.4 926.8) rotate(-90)" class="ss b" font-size="11.5" text-anchor="middle">expression (folds of control)</text>
<text transform="translate(345.2 856.8) scale(1 1.13)" class="sr b" font-size="22">H</text>
<clipPath id="cAa"><rect x="107.95" y="211.2" width="207.75" height="36.6"/></clipPath>
<clipPath id="cAb"><rect x="107.95" y="247.8" width="207.75" height="36.4"/></clipPath>
<rect x="107.95" y="211.2" width="207.75" height="36.6" fill="#fbfbfb"/>
<rect x="107.95" y="247.8" width="207.75" height="36.4" fill="#fbfbfb"/>
<g clip-path="url(#cAa)">
<rect x="118" y="228.2" width="24.5" height="13" fill="#000" opacity="0.13" filter="url(#bl2)" transform="rotate(2.5 130.25 228.2)"/>
<rect x="116.5" y="222.35" width="27.5" height="12.2" rx="3" fill="#000" opacity="0.22" filter="url(#bl3)" transform="rotate(2.5 130.25 228.2)"/>
<rect x="117.5" y="223.85" width="25.5" height="8.7" rx="3.5" fill="#000" opacity="1" filter="url(#bl)" transform="rotate(2.5 130.25 228.2)"/>
<rect x="151" y="229.9" width="22.7" height="13" fill="#000" opacity="0.13" filter="url(#bl2)" transform="rotate(1.5 162.35 229.9)"/>
<rect x="149.5" y="223.95" width="25.7" height="12.4" rx="3" fill="#000" opacity="0.22" filter="url(#bl3)" transform="rotate(1.5 162.35 229.9)"/>
<rect x="150.5" y="225.45" width="23.7" height="8.9" rx="3.5" fill="#000" opacity="1" filter="url(#bl)" transform="rotate(1.5 162.35 229.9)"/>
<rect x="183.3" y="231" width="23.6" height="13" fill="#000" opacity="0.13" filter="url(#bl2)" transform="rotate(1 195.1 231)"/>
<rect x="181.8" y="225.35" width="26.6" height="11.8" rx="3" fill="#000" opacity="0.22" filter="url(#bl3)" transform="rotate(1 195.1 231)"/>
<rect x="182.8" y="226.85" width="24.6" height="8.3" rx="3.5" fill="#000" opacity="1" filter="url(#bl)" transform="rotate(1 195.1 231)"/>
<rect x="215.9" y="233" width="23.2" height="13" fill="#000" opacity="0.13" filter="url(#bl2)"/>
<rect x="214.4" y="227.65" width="26.2" height="11.2" rx="3" fill="#000" opacity="0.15" filter="url(#bl3)"/>
<rect x="215.4" y="229.15" width="24.2" height="7.7" rx="3.5" fill="#000" opacity="0.7" filter="url(#bl)"/>
<rect x="248" y="232.7" width="22.9" height="13" fill="#000" opacity="0.13" filter="url(#bl2)"/>
<rect x="246.5" y="227.55" width="25.9" height="10.8" rx="3" fill="#000" opacity="0.14" filter="url(#bl3)"/>
<rect x="247.5" y="229.05" width="23.9" height="7.3" rx="3.5" fill="#000" opacity="0.62" filter="url(#bl)"/>
<rect x="280.7" y="231.3" width="23.4" height="13" fill="#000" opacity="0.13" filter="url(#bl2)"/>
<rect x="279.2" y="225.95" width="26.4" height="11.2" rx="3" fill="#000" opacity="0.10" filter="url(#bl3)"/>
<rect x="280.2" y="227.45" width="24.4" height="7.7" rx="3.5" fill="#000" opacity="0.47" filter="url(#bl)"/>
</g>
<g clip-path="url(#cAb)">
<rect x="118.5" y="267.2" width="31.5" height="7.5" fill="#000" opacity="0.24" filter="url(#bl2)" transform="rotate(4 134.25 267.2)"/>
<rect x="117" y="260.55" width="34.5" height="13.8" rx="3" fill="#000" opacity="0.22" filter="url(#bl3)" transform="rotate(4 134.25 267.2)"/>
<rect x="118" y="262.05" width="32.5" height="10.3" rx="3.5" fill="#000" opacity="1" filter="url(#bl)" transform="rotate(4 134.25 267.2)"/>
<rect x="150" y="269.5" width="31" height="7.5" fill="#000" opacity="0.24" filter="url(#bl2)" transform="rotate(1.5 165.5 269.5)"/>
<rect x="148.5" y="263.05" width="34" height="13.4" rx="3" fill="#000" opacity="0.22" filter="url(#bl3)" transform="rotate(1.5 165.5 269.5)"/>
<rect x="149.5" y="264.55" width="32" height="9.9" rx="3.5" fill="#000" opacity="1" filter="url(#bl)" transform="rotate(1.5 165.5 269.5)"/>
<rect x="181" y="270.2" width="33" height="7.5" fill="#000" opacity="0.24" filter="url(#bl2)"/>
<rect x="179.5" y="264.25" width="36" height="12.4" rx="3" fill="#000" opacity="0.22" filter="url(#bl3)"/>
<rect x="180.5" y="265.75" width="34" height="8.9" rx="3.5" fill="#000" opacity="1" filter="url(#bl)"/>
<rect x="214.5" y="269.8" width="31.9" height="7.5" fill="#000" opacity="0.24" filter="url(#bl2)"/>
<rect x="213" y="263.35" width="34.9" height="13.4" rx="3" fill="#000" opacity="0.22" filter="url(#bl3)"/>
<rect x="214" y="264.85" width="32.9" height="9.9" rx="3.5" fill="#000" opacity="1" filter="url(#bl)"/>
<rect x="246.9" y="270" width="28.4" height="7.5" fill="#000" opacity="0.24" filter="url(#bl2)"/>
<rect x="245.4" y="264.25" width="31.4" height="12" rx="3" fill="#000" opacity="0.22" filter="url(#bl3)"/>
<rect x="246.4" y="265.75" width="29.4" height="8.5" rx="3.5" fill="#000" opacity="1" filter="url(#bl)"/>
<rect x="276" y="268" width="27.3" height="7.5" fill="#000" opacity="0.24" filter="url(#bl2)" transform="rotate(-4 289.65 268)"/>
<rect x="274.5" y="262.05" width="30.3" height="12.4" rx="3" fill="#000" opacity="0.22" filter="url(#bl3)" transform="rotate(-4 289.65 268)"/>
<rect x="275.5" y="263.55" width="28.3" height="8.9" rx="3.5" fill="#000" opacity="1" filter="url(#bl)" transform="rotate(-4 289.65 268)"/>
</g>
<rect x="107.95" y="211.2" width="207.75" height="73" fill="none" stroke="#000" stroke-width="1.6"/>
<line x1="107.95" y1="247.8" x2="315.7" y2="247.8" stroke="#000" stroke-width="1.6"/>
<text x="101" y="234.4" class="ss" font-size="12.2" text-anchor="end">ZO-1</text>
<text x="101" y="268.7" class="ss" font-size="12.2" text-anchor="end">β-actin</text>
<text x="322.4" y="233.9" class="ss" font-size="12.2" text-anchor="start">225 kD</text>
<text x="322.4" y="268.6" class="ss" font-size="12.2" text-anchor="start">42 kD</text>
<clipPath id="cBa"><rect x="432.45" y="211.2" width="207.6" height="36.6"/></clipPath>
<clipPath id="cBb"><rect x="432.45" y="247.8" width="207.6" height="36.4"/></clipPath>
<rect x="432.45" y="211.2" width="207.6" height="36.6" fill="#fbfbfb"/>
<rect x="432.45" y="247.8" width="207.6" height="36.4" fill="#fbfbfb"/>
<g clip-path="url(#cBa)">
<rect x="442.5" y="226.9" width="25.4" height="7" fill="#000" opacity="0.1" filter="url(#bl2)" transform="rotate(8 455.2 226.9)"/>
<rect x="441" y="222.25" width="28.4" height="9.8" rx="3" fill="#000" opacity="0.22" filter="url(#bl3)" transform="rotate(8 455.2 226.9)"/>
<rect x="442" y="223.75" width="26.4" height="6.3" rx="3.15" fill="#000" opacity="1" filter="url(#bl)" transform="rotate(8 455.2 226.9)"/>
<rect x="474.1" y="229" width="24.5" height="7" fill="#000" opacity="0.1" filter="url(#bl2)" transform="rotate(4 486.35 229)"/>
<rect x="472.6" y="223.65" width="27.5" height="11.2" rx="3" fill="#000" opacity="0.22" filter="url(#bl3)" transform="rotate(4 486.35 229)"/>
<rect x="473.6" y="225.15" width="25.5" height="7.7" rx="3.5" fill="#000" opacity="1" filter="url(#bl)" transform="rotate(4 486.35 229)"/>
<rect x="505.6" y="230.4" width="25.4" height="7" fill="#000" opacity="0.1" filter="url(#bl2)" transform="rotate(4 518.3 230.4)"/>
<rect x="504.1" y="225.75" width="28.4" height="9.8" rx="3" fill="#000" opacity="0.22" filter="url(#bl3)" transform="rotate(4 518.3 230.4)"/>
<rect x="505.1" y="227.25" width="26.4" height="6.3" rx="3.15" fill="#000" opacity="1" filter="url(#bl)" transform="rotate(4 518.3 230.4)"/>
<rect x="537.3" y="232.7" width="25.3" height="7" fill="#000" opacity="0.1" filter="url(#bl2)" transform="rotate(2 549.95 232.7)"/>
<rect x="535.8" y="228.55" width="28.3" height="8.8" rx="3" fill="#000" opacity="0.09" filter="url(#bl3)" transform="rotate(2 549.95 232.7)"/>
<rect x="536.8" y="230.05" width="26.3" height="5.3" rx="2.65" fill="#000" opacity="0.42" filter="url(#bl)" transform="rotate(2 549.95 232.7)"/>
<rect x="569.7" y="231.3" width="26.2" height="7" fill="#000" opacity="0.1" filter="url(#bl2)" transform="rotate(-5 582.8 231.3)"/>
<rect x="568.2" y="226.95" width="29.2" height="9.2" rx="3" fill="#000" opacity="0.09" filter="url(#bl3)" transform="rotate(-5 582.8 231.3)"/>
<rect x="569.2" y="228.45" width="27.2" height="5.7" rx="2.85" fill="#000" opacity="0.42" filter="url(#bl)" transform="rotate(-5 582.8 231.3)"/>
<rect x="583" y="226.15" width="14.4" height="8.8" rx="3" fill="#000" opacity="0.07" filter="url(#bl3)" transform="rotate(-5 590.2 230.3)"/>
<rect x="584" y="227.65" width="12.4" height="5.3" rx="2.65" fill="#000" opacity="0.3" filter="url(#bl)" transform="rotate(-5 590.2 230.3)"/>
<rect x="602.1" y="231.3" width="24.5" height="7" fill="#000" opacity="0.1" filter="url(#bl2)"/>
<rect x="600.6" y="227.15" width="27.5" height="8.8" rx="3" fill="#000" opacity="0.11" filter="url(#bl3)"/>
<rect x="601.6" y="228.65" width="25.5" height="5.3" rx="2.65" fill="#000" opacity="0.5" filter="url(#bl)"/>
</g>
<g clip-path="url(#cBb)">
<rect x="440.9" y="262.8" width="32.2" height="7.5" fill="#000" opacity="0.24" filter="url(#bl2)" transform="rotate(7 457 262.8)"/>
<rect x="439.4" y="256.85" width="35.2" height="12.4" rx="3" fill="#000" opacity="0.22" filter="url(#bl3)" transform="rotate(7 457 262.8)"/>
<rect x="440.4" y="258.35" width="33.2" height="8.9" rx="3.5" fill="#000" opacity="1" filter="url(#bl)" transform="rotate(7 457 262.8)"/>
<rect x="473.5" y="264.6" width="30.2" height="7.5" fill="#000" opacity="0.24" filter="url(#bl2)" transform="rotate(2 488.6 264.6)"/>
<rect x="472" y="258.85" width="33.2" height="12" rx="3" fill="#000" opacity="0.22" filter="url(#bl3)" transform="rotate(2 488.6 264.6)"/>
<rect x="473" y="260.35" width="31.2" height="8.5" rx="3.5" fill="#000" opacity="1" filter="url(#bl)" transform="rotate(2 488.6 264.6)"/>
<rect x="504.3" y="265" width="32.7" height="7.5" fill="#000" opacity="0.24" filter="url(#bl2)" transform="rotate(1 520.65 265)"/>
<rect x="502.8" y="259.75" width="35.7" height="11" rx="3" fill="#000" opacity="0.22" filter="url(#bl3)" transform="rotate(1 520.65 265)"/>
<rect x="503.8" y="261.25" width="33.7" height="7.5" rx="3.5" fill="#000" opacity="1" filter="url(#bl)" transform="rotate(1 520.65 265)"/>
<rect x="538.5" y="266.3" width="30.2" height="7.5" fill="#000" opacity="0.24" filter="url(#bl2)"/>
<rect x="537" y="260.25" width="33.2" height="12.6" rx="3" fill="#000" opacity="0.22" filter="url(#bl3)"/>
<rect x="538" y="261.75" width="31.2" height="9.1" rx="3.5" fill="#000" opacity="1" filter="url(#bl)"/>
<rect x="569.3" y="265.4" width="31" height="7.5" fill="#000" opacity="0.24" filter="url(#bl2)"/>
<rect x="567.8" y="260.15" width="34" height="11" rx="3" fill="#000" opacity="0.22" filter="url(#bl3)"/>
<rect x="568.8" y="261.65" width="32" height="7.5" rx="3.5" fill="#000" opacity="1" filter="url(#bl)"/>
<rect x="601.7" y="264" width="30.1" height="7.5" fill="#000" opacity="0.24" filter="url(#bl2)" transform="rotate(-6 616.75 264)"/>
<rect x="600.2" y="258.75" width="33.1" height="11" rx="3" fill="#000" opacity="0.22" filter="url(#bl3)" transform="rotate(-6 616.75 264)"/>
<rect x="601.2" y="260.25" width="31.1" height="7.5" rx="3.5" fill="#000" opacity="1" filter="url(#bl)" transform="rotate(-6 616.75 264)"/>
</g>
<rect x="432.45" y="211.2" width="207.6" height="73" fill="none" stroke="#000" stroke-width="1.6"/>
<line x1="432.45" y1="247.8" x2="640.05" y2="247.8" stroke="#000" stroke-width="1.6"/>
<text x="424.9" y="234" class="ss" font-size="12.2" text-anchor="end">OCLD</text>
<text x="424.9" y="268.5" class="ss" font-size="12.2" text-anchor="end">β-actin</text>
<text x="646.4" y="233.9" class="ss" font-size="12.2" text-anchor="start">62 kD</text>
<text x="646.4" y="268.6" class="ss" font-size="12.2" text-anchor="start">42 kD</text>
<clipPath id="cCa"><rect x="106.7" y="511.1" width="207.6" height="36.1"/></clipPath>
<clipPath id="cCb"><rect x="106.7" y="547.2" width="207.6" height="36.6"/></clipPath>
<rect x="106.7" y="511.1" width="207.6" height="36.1" fill="#fbfbfb"/>
<rect x="106.7" y="547.2" width="207.6" height="36.6" fill="#fbfbfb"/>
<g clip-path="url(#cCa)">
<rect x="114.8" y="524.95" width="30.5" height="9" rx="3" fill="#000" opacity="0.22" filter="url(#bl3)" transform="rotate(3 130.05 529.2)"/>
<rect x="115.8" y="526.45" width="28.5" height="5.5" rx="2.75" fill="#000" opacity="1" filter="url(#bl)" transform="rotate(3 130.05 529.2)"/>
<rect x="147.6" y="523.55" width="27.5" height="9.4" rx="3" fill="#000" opacity="0.22" filter="url(#bl3)"/>
<rect x="148.6" y="525.05" width="25.5" height="5.9" rx="2.95" fill="#000" opacity="1" filter="url(#bl)"/>
<rect x="176.4" y="527.05" width="31.1" height="6.8" rx="3" fill="#000" opacity="0.11" filter="url(#bl3)"/>
<rect x="177.4" y="528.55" width="29.1" height="3.3" rx="1.65" fill="#000" opacity="0.5" filter="url(#bl)"/>
<rect x="211.7" y="527.65" width="28.3" height="7.2" rx="3" fill="#000" opacity="0.12" filter="url(#bl3)"/>
<rect x="212.7" y="529.15" width="26.3" height="3.7" rx="1.85" fill="#000" opacity="0.55" filter="url(#bl)"/>
<rect x="242.4" y="527.65" width="30" height="7.2" rx="3" fill="#000" opacity="0.12" filter="url(#bl3)"/>
<rect x="243.4" y="529.15" width="28" height="3.7" rx="1.85" fill="#000" opacity="0.55" filter="url(#bl)"/>
<rect x="274.7" y="528.25" width="29.3" height="6.4" rx="3" fill="#000" opacity="0.07" filter="url(#bl3)"/>
<rect x="275.7" y="529.75" width="27.3" height="2.9" rx="1.45" fill="#000" opacity="0.3" filter="url(#bl)"/>
</g>
<g clip-path="url(#cCb)">
<rect x="114.9" y="562" width="31.4" height="7.5" fill="#000" opacity="0.24" filter="url(#bl2)" transform="rotate(6 130.6 562)"/>
<rect x="113.4" y="555.85" width="34.4" height="12.8" rx="3" fill="#000" opacity="0.22" filter="url(#bl3)" transform="rotate(6 130.6 562)"/>
<rect x="114.4" y="557.35" width="32.4" height="9.3" rx="3.5" fill="#000" opacity="1" filter="url(#bl)" transform="rotate(6 130.6 562)"/>
<rect x="146.9" y="564" width="30.1" height="7.5" fill="#000" opacity="0.24" filter="url(#bl2)" transform="rotate(2 161.95 564)"/>
<rect x="145.4" y="558.55" width="33.1" height="11.4" rx="3" fill="#000" opacity="0.22" filter="url(#bl3)" transform="rotate(2 161.95 564)"/>
<rect x="146.4" y="560.05" width="31.1" height="7.9" rx="3.5" fill="#000" opacity="1" filter="url(#bl)" transform="rotate(2 161.95 564)"/>
<rect x="177.5" y="564.6" width="34.5" height="7.5" fill="#000" opacity="0.24" filter="url(#bl2)" transform="rotate(1 194.75 564.6)"/>
<rect x="176" y="559.35" width="37.5" height="11" rx="3" fill="#000" opacity="0.22" filter="url(#bl3)" transform="rotate(1 194.75 564.6)"/>
<rect x="177" y="560.85" width="35.5" height="7.5" rx="3.5" fill="#000" opacity="1" filter="url(#bl)" transform="rotate(1 194.75 564.6)"/>
<rect x="212.3" y="565.8" width="29.7" height="7.5" fill="#000" opacity="0.24" filter="url(#bl2)"/>
<rect x="210.8" y="560.05" width="32.7" height="12" rx="3" fill="#000" opacity="0.22" filter="url(#bl3)"/>
<rect x="211.8" y="561.55" width="30.7" height="8.5" rx="3.5" fill="#000" opacity="1" filter="url(#bl)"/>
<rect x="242.5" y="565" width="32" height="7.5" fill="#000" opacity="0.24" filter="url(#bl2)"/>
<rect x="241" y="559.95" width="35" height="10.6" rx="3" fill="#000" opacity="0.22" filter="url(#bl3)"/>
<rect x="242" y="561.45" width="33" height="7.1" rx="3.5" fill="#000" opacity="1" filter="url(#bl)"/>
<rect x="276" y="563.3" width="30" height="7.5" fill="#000" opacity="0.24" filter="url(#bl2)" transform="rotate(-6 291 563.3)"/>
<rect x="274.5" y="558.05" width="33" height="11" rx="3" fill="#000" opacity="0.22" filter="url(#bl3)" transform="rotate(-6 291 563.3)"/>
<rect x="275.5" y="559.55" width="31" height="7.5" rx="3.5" fill="#000" opacity="1" filter="url(#bl)" transform="rotate(-6 291 563.3)"/>
</g>
<rect x="106.7" y="511.1" width="207.6" height="72.7" fill="none" stroke="#000" stroke-width="1.6"/>
<line x1="106.7" y1="547.2" x2="314.3" y2="547.2" stroke="#000" stroke-width="1.6"/>
<text x="101" y="532.8" class="ss" font-size="12.2" text-anchor="end">CLDN3</text>
<text x="101" y="567.7" class="ss" font-size="12.2" text-anchor="end">β-actin</text>
<text x="320.4" y="533.8" class="ss" font-size="12.2" text-anchor="start">23 kD</text>
<text x="320.4" y="568.5" class="ss" font-size="12.2" text-anchor="start">42 kD</text>
<clipPath id="cDa"><rect x="432.4" y="511.1" width="207.55" height="36.1"/></clipPath>
<clipPath id="cDb"><rect x="432.4" y="547.2" width="207.55" height="36.6"/></clipPath>
<rect x="432.4" y="511.1" width="207.55" height="36.1" fill="#f5f5f5"/>
<rect x="432.4" y="547.2" width="207.55" height="36.6" fill="#fbfbfb"/>
<g clip-path="url(#cDa)">
<rect x="439" y="525.1" width="32.6" height="20" fill="#000" opacity="0.17" filter="url(#bl2)" transform="rotate(2 455.3 525.1)"/>
<rect x="439.8" y="519.55" width="31" height="11.6" rx="3" fill="#000" opacity="0.14" filter="url(#bl3)" transform="rotate(2 455.3 525.1)"/>
<rect x="440.8" y="521.05" width="29" height="8.1" rx="3.5" fill="#000" opacity="0.62" filter="url(#bl)" transform="rotate(2 455.3 525.1)"/>
<rect x="472.6" y="526.9" width="30.8" height="20" fill="#000" opacity="0.17" filter="url(#bl2)" transform="rotate(2 488 526.9)"/>
<rect x="473.4" y="521.35" width="29.2" height="11.6" rx="3" fill="#000" opacity="0.12" filter="url(#bl3)" transform="rotate(2 488 526.9)"/>
<rect x="474.4" y="522.85" width="27.2" height="8.1" rx="3.5" fill="#000" opacity="0.54" filter="url(#bl)" transform="rotate(2 488 526.9)"/>
<rect x="505.1" y="528.6" width="30.8" height="20" fill="#000" opacity="0.17" filter="url(#bl2)" transform="rotate(1 520.5 528.6)"/>
<rect x="505.9" y="523.05" width="29.2" height="11.6" rx="3" fill="#000" opacity="0.17" filter="url(#bl3)" transform="rotate(1 520.5 528.6)"/>
<rect x="506.9" y="524.55" width="27.2" height="8.1" rx="3.5" fill="#000" opacity="0.78" filter="url(#bl)" transform="rotate(1 520.5 528.6)"/>
<rect x="537.3" y="530.4" width="31.1" height="20" fill="#000" opacity="0.17" filter="url(#bl2)"/>
<rect x="538.1" y="524.85" width="29.5" height="11.6" rx="3" fill="#000" opacity="0.14" filter="url(#bl3)"/>
<rect x="539.1" y="526.35" width="27.5" height="8.1" rx="3.5" fill="#000" opacity="0.64" filter="url(#bl)"/>
<rect x="569.1" y="530.4" width="31.8" height="20" fill="#000" opacity="0.17" filter="url(#bl2)"/>
<rect x="569.9" y="524.55" width="30.2" height="12.2" rx="3" fill="#000" opacity="0.22" filter="url(#bl3)"/>
<rect x="570.9" y="526.05" width="28.2" height="8.7" rx="3.5" fill="#000" opacity="1" filter="url(#bl)"/>
<rect x="601.6" y="529.5" width="32.5" height="20" fill="#000" opacity="0.17" filter="url(#bl2)" transform="rotate(-1 617.85 529.5)"/>
<rect x="602.4" y="523.65" width="30.9" height="12.2" rx="3" fill="#000" opacity="0.22" filter="url(#bl3)" transform="rotate(-1 617.85 529.5)"/>
<rect x="603.4" y="525.15" width="28.9" height="8.7" rx="3.5" fill="#000" opacity="1" filter="url(#bl)" transform="rotate(-1 617.85 529.5)"/>
</g>
<g clip-path="url(#cDb)">
<rect x="438.6" y="561.4" width="36" height="7.5" fill="#000" opacity="0.24" filter="url(#bl2)" transform="rotate(6 456.6 561.4)"/>
<rect x="439.4" y="555.45" width="34.4" height="12.4" rx="3" fill="#000" opacity="0.22" filter="url(#bl3)" transform="rotate(6 456.6 561.4)"/>
<rect x="440.4" y="556.95" width="32.4" height="8.9" rx="3.5" fill="#000" opacity="1" filter="url(#bl)" transform="rotate(6 456.6 561.4)"/>
<rect x="470.6" y="563.3" width="34.7" height="7.5" fill="#000" opacity="0.24" filter="url(#bl2)" transform="rotate(2 487.95 563.3)"/>
<rect x="471.4" y="557.85" width="33.1" height="11.4" rx="3" fill="#000" opacity="0.22" filter="url(#bl3)" transform="rotate(2 487.95 563.3)"/>
<rect x="472.4" y="559.35" width="31.1" height="7.9" rx="3.5" fill="#000" opacity="1" filter="url(#bl)" transform="rotate(2 487.95 563.3)"/>
<rect x="501.2" y="563.7" width="38.1" height="7.5" fill="#000" opacity="0.24" filter="url(#bl2)" transform="rotate(1 520.25 563.7)"/>
<rect x="502" y="558.65" width="36.5" height="10.6" rx="3" fill="#000" opacity="0.22" filter="url(#bl3)" transform="rotate(1 520.25 563.7)"/>
<rect x="503" y="560.15" width="34.5" height="7.1" rx="3.5" fill="#000" opacity="1" filter="url(#bl)" transform="rotate(1 520.25 563.7)"/>
<rect x="536.2" y="565.4" width="34.8" height="7.5" fill="#000" opacity="0.24" filter="url(#bl2)"/>
<rect x="537" y="559.65" width="33.2" height="12" rx="3" fill="#000" opacity="0.22" filter="url(#bl3)"/>
<rect x="538" y="561.15" width="31.2" height="8.5" rx="3.5" fill="#000" opacity="1" filter="url(#bl)"/>
<rect x="567" y="565" width="35.6" height="7.5" fill="#000" opacity="0.24" filter="url(#bl2)"/>
<rect x="567.8" y="559.95" width="34" height="10.6" rx="3" fill="#000" opacity="0.22" filter="url(#bl3)"/>
<rect x="568.8" y="561.45" width="32" height="7.1" rx="3.5" fill="#000" opacity="1" filter="url(#bl)"/>
<rect x="599.4" y="562.5" width="33.9" height="7.5" fill="#000" opacity="0.24" filter="url(#bl2)" transform="rotate(-6 616.35 562.5)"/>
<rect x="600.2" y="557.25" width="32.3" height="11" rx="3" fill="#000" opacity="0.22" filter="url(#bl3)" transform="rotate(-6 616.35 562.5)"/>
<rect x="601.2" y="558.75" width="30.3" height="7.5" rx="3.5" fill="#000" opacity="1" filter="url(#bl)" transform="rotate(-6 616.35 562.5)"/>
</g>
<rect x="432.4" y="511.1" width="207.55" height="72.7" fill="none" stroke="#000" stroke-width="1.6"/>
<line x1="432.4" y1="547.2" x2="639.95" y2="547.2" stroke="#000" stroke-width="1.6"/>
<text x="425" y="532.8" class="ss" font-size="12.2" text-anchor="end">E-cad</text>
<text x="425" y="567.7" class="ss" font-size="12.2" text-anchor="end">β-actin</text>
<text x="643.7" y="532.7" class="ss" font-size="12.2" text-anchor="start">120 kD</text>
<text x="643.7" y="567.7" class="ss" font-size="12.2" text-anchor="start">42 kD</text>
</svg>
</body></html>
